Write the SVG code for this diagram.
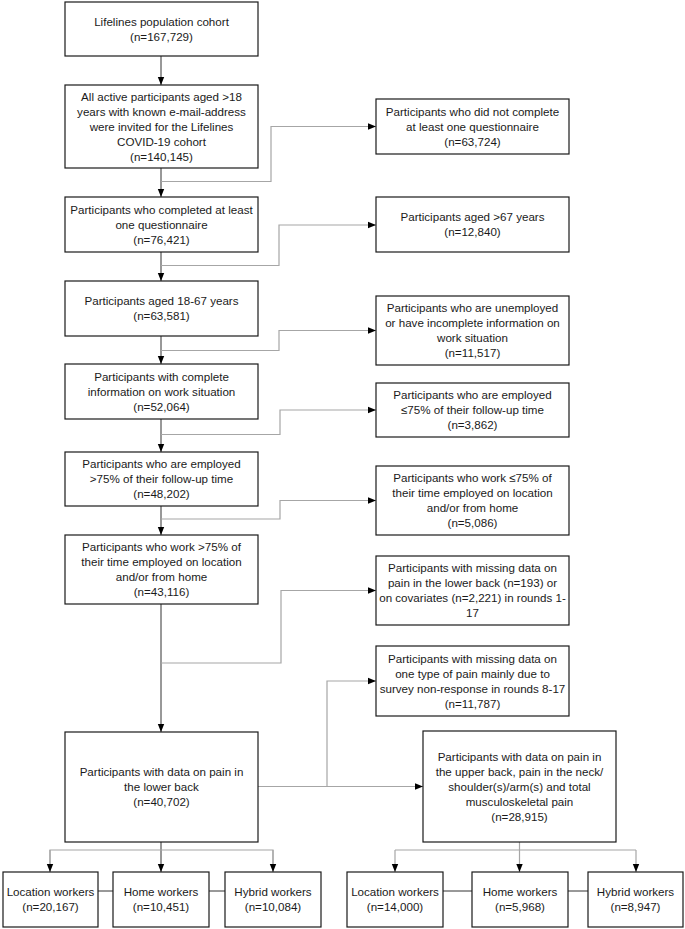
<svg xmlns="http://www.w3.org/2000/svg" width="685" height="929" viewBox="0 0 685 929">
<style>
.box{fill:#fff;stroke:#1a1a1a;stroke-width:1.2}
text{font-family:"Liberation Sans",Arial,sans-serif;font-size:11.6px;fill:#1a1a1a;text-anchor:middle}
.main{fill:none;stroke:#333;stroke-width:1}
.side{fill:none;stroke:#a6a6a6;stroke-width:1.2}
.link{fill:none;stroke:#333;stroke-width:1}
</style>
<defs>
<marker id="ah" markerUnits="userSpaceOnUse" markerWidth="8" markerHeight="8" viewBox="0 0 8 8" refX="8" refY="4" orient="auto">
<path d="M0,0.8 L8,4 L0,7.2 Z" fill="#000"/>
</marker>
</defs>
<rect width="685" height="929" fill="#fff"/>

<g id="connectors">
<path class="main" d="M161,56 V85" marker-end="url(#ah)"/>
<path class="main" d="M161,168 V197" marker-end="url(#ah)"/>
<path class="main" d="M161,252 V281" marker-end="url(#ah)"/>
<path class="main" d="M161,336 V364" marker-end="url(#ah)"/>
<path class="main" d="M161,419 V452" marker-end="url(#ah)"/>
<path class="main" d="M161,506 V535" marker-end="url(#ah)"/>
<path class="main" d="M161,604 V732" marker-end="url(#ah)"/>
<path class="side" d="M161,181.5 H271 V126.5 H376" marker-end="url(#ah)"/>
<path class="side" d="M161,265.5 H279 V225 H376" marker-end="url(#ah)"/>
<path class="side" d="M161,350.5 H279 V330.5 H376" marker-end="url(#ah)"/>
<path class="side" d="M161,434.5 H280 V410 H376" marker-end="url(#ah)"/>
<path class="side" d="M161,519 H280 V500.5 H376" marker-end="url(#ah)"/>
<path class="side" d="M161,663 H281 V590.5 H376" marker-end="url(#ah)"/>
<path class="side" d="M258,786.5 H423" marker-end="url(#ah)"/>
<path class="side" d="M327,786.5 V681 H376" marker-end="url(#ah)"/>
<path class="main" d="M161,842 V872" marker-end="url(#ah)"/>
<path class="side" d="M50,872 V850 H273 V872" />
<path class="side" d="M50,850 V872" marker-end="url(#ah)"/>
<path class="side" d="M273,850 V872" marker-end="url(#ah)"/>
<path class="side" d="M519.5,842 V872" marker-end="url(#ah)"/>
<path class="side" d="M395,850 H636"/>
<path class="side" d="M395,850 V872" marker-end="url(#ah)"/>
<path class="side" d="M636,850 V872" marker-end="url(#ah)"/>
<path class="link" d="M98,891 H113 M209,891 H225 M443,891 H472 M568,891 H588"/>
</g>

<g id="n1"><rect class="box" x="65" y="2" width="193" height="54"/>
<text x="161.5" y="25.5">Lifelines population cohort</text><text x="161.5" y="40.5">(n=167,729)</text></g>

<g id="n2"><rect class="box" x="65" y="85" width="193" height="83"/>
<text x="161.5" y="100.5">All active participants aged &gt;18</text>
<text x="161.5" y="115.5">years with known e-mail-address</text>
<text x="161.5" y="130.5">were invited for the Lifelines</text>
<text x="161.5" y="145.5">COVID-19 cohort</text>
<text x="161.5" y="160.5">(n=140,145)</text></g>

<g id="n3"><rect class="box" x="65" y="197" width="193" height="55"/>
<text x="161.5" y="213.5">Participants who completed at least</text>
<text x="161.5" y="228.5">one questionnaire</text>
<text x="161.5" y="243.5">(n=76,421)</text></g>

<g id="n4"><rect class="box" x="65" y="281" width="193" height="55"/>
<text x="161.5" y="305">Participants aged 18-67 years</text>
<text x="161.5" y="320">(n=63,581)</text></g>

<g id="n5"><rect class="box" x="65" y="364" width="193" height="55"/>
<text x="161.5" y="380.5">Participants with complete</text>
<text x="161.5" y="395.5">information on work situation</text>
<text x="161.5" y="410.5">(n=52,064)</text></g>

<g id="n6"><rect class="box" x="65" y="452" width="193" height="54"/>
<text x="161.5" y="468">Participants who are employed</text>
<text x="161.5" y="483">&gt;75% of their follow-up time</text>
<text x="161.5" y="498">(n=48,202)</text></g>

<g id="n7"><rect class="box" x="65" y="535" width="193" height="69"/>
<text x="161.5" y="551">Participants who work &gt;75% of</text>
<text x="161.5" y="566">their time employed on location</text>
<text x="161.5" y="581">and/or from home</text>
<text x="161.5" y="596">(n=43,116)</text></g>

<g id="n8"><rect class="box" x="65" y="732" width="193" height="110"/>
<text x="161.5" y="776">Participants with data on pain in</text>
<text x="161.5" y="791">the lower back</text>
<text x="161.5" y="806">(n=40,702)</text></g>

<g id="r1"><rect class="box" x="376" y="99" width="193" height="55"/>
<text x="472.5" y="115.5">Participants who did not complete</text>
<text x="472.5" y="130.5">at least one questionnaire</text>
<text x="472.5" y="145.5">(n=63,724)</text></g>

<g id="r2"><rect class="box" x="376" y="197" width="193" height="55"/>
<text x="472.5" y="221">Participants aged &gt;67 years</text>
<text x="472.5" y="236">(n=12,840)</text></g>

<g id="r3"><rect class="box" x="376" y="296" width="193" height="69"/>
<text x="472.5" y="312">Participants who are unemployed</text>
<text x="472.5" y="327">or have incomplete information on</text>
<text x="472.5" y="342">work situation</text>
<text x="472.5" y="357">(n=11,517)</text></g>

<g id="r4"><rect class="box" x="376" y="383" width="193" height="54"/>
<text x="472.5" y="399">Participants who are employed</text>
<text x="472.5" y="414">≤75% of their follow-up time</text>
<text x="472.5" y="429">(n=3,862)</text></g>

<g id="r5"><rect class="box" x="376" y="466" width="193" height="69"/>
<text x="472.5" y="482">Participants who work ≤75% of</text>
<text x="472.5" y="497">their time employed on location</text>
<text x="472.5" y="512">and/or from home</text>
<text x="472.5" y="527">(n=5,086)</text></g>

<g id="r6"><rect class="box" x="376" y="556" width="193" height="69"/>
<text x="472.5" y="572">Participants with missing data on</text>
<text x="472.5" y="587">pain in the lower back (n=193) or</text>
<text x="472.5" y="602">on covariates (n=2,221) in rounds 1-</text>
<text x="472.5" y="617">17</text></g>

<g id="r7"><rect class="box" x="376" y="646" width="193" height="70"/>
<text x="472.5" y="662.5">Participants with missing data on</text>
<text x="472.5" y="677.5">one type of pain mainly due to</text>
<text x="472.5" y="692.5">survey non-response in rounds 8-17</text>
<text x="472.5" y="707.5">(n=11,787)</text></g>

<g id="r8"><rect class="box" x="423" y="731" width="193" height="111"/>
<text x="519.5" y="760.5">Participants with data on pain in</text>
<text x="519.5" y="775.5">the upper back, pain in the neck/</text>
<text x="519.5" y="790.5">shoulder(s)/arm(s) and total</text>
<text x="519.5" y="805.5">musculoskeletal pain</text>
<text x="519.5" y="820.5">(n=28,915)</text></g>

<g id="l-loc"><rect class="box" x="3" y="872" width="95" height="55"/>
<text x="50.5" y="896">Location workers</text><text x="50.5" y="911">(n=20,167)</text></g>
<g id="l-home"><rect class="box" x="113" y="872" width="96" height="55"/>
<text x="161" y="896">Home workers</text><text x="161" y="911">(n=10,451)</text></g>
<g id="l-hyb"><rect class="box" x="225" y="872" width="96" height="55"/>
<text x="273" y="896">Hybrid workers</text><text x="273" y="911">(n=10,084)</text></g>

<g id="r-loc"><rect class="box" x="347" y="872" width="96" height="55"/>
<text x="395" y="896">Location workers</text><text x="395" y="911">(n=14,000)</text></g>
<g id="r-home"><rect class="box" x="472" y="872" width="96" height="55"/>
<text x="520" y="896">Home workers</text><text x="520" y="911">(n=5,968)</text></g>
<g id="r-hyb"><rect class="box" x="588" y="872" width="95" height="55"/>
<text x="635.5" y="896">Hybrid workers</text><text x="635.5" y="911">(n=8,947)</text></g>
</svg>
